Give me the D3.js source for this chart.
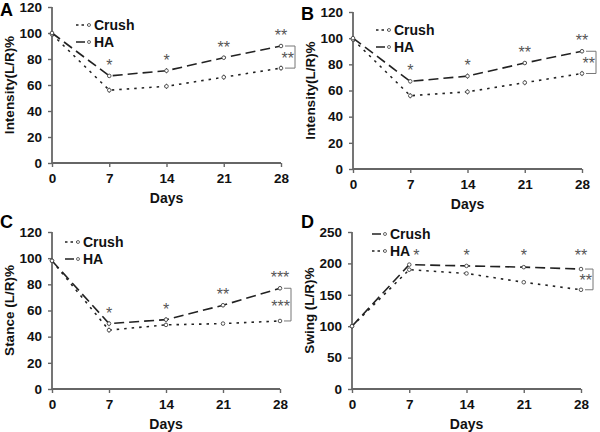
<!DOCTYPE html>
<html><head><meta charset="utf-8">
<script src="https://cdn.jsdelivr.net/npm/d3@7"></script>
<style>
body{margin:0;background:#fff;}
text{font-family:"Liberation Sans",Arial,sans-serif;font-weight:bold;}
text.star{font-weight:normal;}
</style></head>
<body><svg id="c" width="600" height="432"></svg>
<script>
const days = [0, 7, 14, 21, 28];
const xTickLabels = ["0", "7", "14", "21", "28"];
// Panel A
const aCrush = [99, 56, 59, 66, 73];
const aCrushErr = [1, 2, 2, 2, 2];
const aHA = [100, 67, 71, 81, 90];
const aHAErr = [1, 1.5, 2, 1.5, 1.5];
const aStars = ["", "*", "*", "**", "**"];
const aBracket = "**";
// Panel B
const bCrush = [99, 56, 59, 66, 73];
const bCrushErr = [1, 2, 2, 2, 2];
const bHA = [100, 67, 71, 81, 90];
const bHAErr = [1, 1.5, 2, 1.5, 1.5];
const bStars = ["", "*", "*", "**", "**"];
const bBracket = "**";
// Panel C
const cCrush = [98, 45, 49, 50, 52];
const cCrushErr = [1, 2, 1.5, 1, 1];
const cHA = [98, 50, 53, 64, 77];
const cHAErr = [1, 2, 2, 1.5, 1.5];
const cStars = ["", "*", "*", "**", "***"];
const cBracket = "***";
// Panel D
const dCrush = [100, 198, 196, 194, 191];
const dCrushErr = [2, 2, 2, 2, 2];
const dHA = [100, 190, 184, 170, 158];
const dHAErr = [2, 3, 2, 2, 2];
const dStars = ["", "*", "*", "*", "**"];
const dBracket = "**";
const yTicks120 = [0, 20, 40, 60, 80, 100, 120];
const yTicks250 = [0, 50, 100, 150, 200, 250];

const svg = d3.select("#c");
const LONG = "10,5", DOT = "2.5,5";

const panels = [
  {letter:"A", x0:52, x1:281, yT:7, yB:163, max:120, ticks:yTicks120, title:"Intensity(L/R)%",
   crush:aCrush, crushE:aCrushErr, ha:aHA, haE:aHAErr, stars:aStars, br:aBracket,
   crushDash:DOT, haDash:LONG, leg:{x:76,y:25}, flat:false, brX:295, letterXY:[0,16]},
  {letter:"B", x0:353, x1:582, yT:12, yB:169, max:120, ticks:yTicks120, title:"Intensity(L/R)%",
   crush:bCrush, crushE:bCrushErr, ha:bHA, haE:bHAErr, stars:bStars, br:bBracket,
   crushDash:DOT, haDash:LONG, leg:{x:376,y:30}, flat:false, brX:596, letterXY:[301,20]},
  {letter:"C", x0:52, x1:280, yT:232, yB:389, max:120, ticks:yTicks120, title:"Stance (L/R)%",
   crush:cCrush, crushE:cCrushErr, ha:cHA, haE:cHAErr, stars:cStars, br:cBracket,
   crushDash:DOT, haDash:LONG, leg:{x:65,y:242}, flat:false, brX:291, letterXY:[0,228]},
  {letter:"D", x0:352, x1:581, yT:232, yB:389, max:250, ticks:yTicks250, title:"Swing (L/R)%",
   crush:dCrush, crushE:dCrushErr, ha:dHA, haE:dHAErr, stars:dStars, br:dBracket,
   crushDash:LONG, haDash:DOT, leg:{x:372,y:234}, flat:true, brX:593, letterXY:[301,228]}
];

panels.forEach(p => {
  const g = svg.append("g");
  const x = d3.scaleLinear().domain([0, 28]).range([p.x0, p.x1]);
  const y = d3.scaleLinear().domain([0, p.max]).range([p.yB, p.yT]);

  const ya = d3.axisLeft(y).tickValues(p.ticks).tickSize(4).tickPadding(6);
  const xa = d3.axisBottom(x).tickValues(days).tickFormat((d,i)=>xTickLabels[i]).tickSize(4).tickPadding(6);
  const gy = g.append("g").attr("transform", `translate(${p.x0},0)`).call(ya);
  const gx = g.append("g").attr("transform", `translate(0,${p.yB})`).call(xa);
  [gx, gy].forEach(a => {
    a.select(".domain").attr("stroke", "#666").attr("stroke-width", 1.8);
    a.selectAll(".tick line").attr("stroke", "#666").attr("stroke-width", 1.4);
    a.selectAll("text").attr("font-size", 13.5).attr("fill", "#111")
      .attr("font-family", "Liberation Sans, Arial, sans-serif").attr("font-weight", "bold");
  });
  gy.select(".domain").attr("d", `M0,${p.yT}V${p.yB}`);
  gx.select(".domain").attr("d", `M${p.x0},0H${p.x1}`);

  g.append("text").attr("x", (p.x0 + p.x1)/2).attr("y", p.yB + 40)
    .attr("text-anchor", "middle").attr("font-size", 14).attr("fill", "#111").text("Days");
  g.append("text").attr("transform", `translate(${p.x0 - 38},${(p.yT + p.yB)/2}) rotate(-90)`)
    .attr("text-anchor", "middle").attr("font-size", 13.5).attr("fill", "#111").text(p.title);
  g.append("text").attr("x", p.letterXY[0]).attr("y", p.letterXY[1])
    .attr("font-size", 18).attr("fill", "#000").text(p.letter);

  const series = [
    {vals:p.crush, err:p.crushE, dash:p.crushDash},
    {vals:p.ha, err:p.haE, dash:p.haDash}
  ];
  const line = d3.line().x((d,i)=>x(days[i])).y(d=>y(d));
  series.forEach(s => {
    g.append("path").datum(s.vals).attr("d", line).attr("fill", "none")
      .attr("stroke", "#222").attr("stroke-width", 1.6).attr("stroke-dasharray", s.dash);
    const pts = g.append("g");
    s.vals.forEach((v, i) => {
      pts.append("line").attr("x1", x(days[i])).attr("x2", x(days[i]))
        .attr("y1", y(v - s.err[i])).attr("y2", y(v + s.err[i])).attr("stroke", "#555").attr("stroke-width", 1);
      pts.append("circle").attr("cx", x(days[i])).attr("cy", y(v)).attr("r", 1.8)
        .attr("fill", "#fff").attr("stroke", "#444").attr("stroke-width", 0.9);
    });
  });

  const flatY = y(d3.max(p.crush.concat(p.ha))) - 11;
  p.stars.forEach((s, i) => {
    if (!s) return;
    const top = Math.max(p.crush[i], p.ha[i]);
    const sy = p.flat ? flatY : y(top) - 12;
    g.append("text").attr("class", "star").attr("x", x(days[i]) + (p.flat && i===1 ? 7 : 0)).attr("y", sy + 7)
      .attr("text-anchor", "middle").attr("font-size", 16)
      .attr("fill", "#555").text(s);
  });

  const yH = y(p.ha[4]), yC = y(p.crush[4]);
  const yTopB = Math.min(yH, yC), yBotB = Math.max(yH, yC);
  const xb = x(28) + 4;
  g.append("path").attr("d", `M${xb},${yTopB}H${p.brX}V${yBotB}H${xb}`)
    .attr("fill", "none").attr("stroke", "#777").attr("stroke-width", 1);
  g.append("text").attr("class", "star").attr("x", p.brX - 1).attr("y", (yTopB + yBotB)/2 + 7)
    .attr("text-anchor", "end").attr("font-size", 16)
    .attr("fill", "#555").text(p.br);

  const legItems = [
    {name:"Crush", dash:p.crushDash, dy:0},
    {name:"HA", dash:p.haDash, dy:17}
  ];
  legItems.forEach(l => {
    const ly = p.leg.y + l.dy;
    g.append("line").attr("x1", p.leg.x).attr("x2", p.leg.x + 13).attr("y1", ly).attr("y2", ly)
      .attr("stroke", "#222").attr("stroke-width", 1.6).attr("stroke-dasharray", l.dash === LONG ? "9,3" : "2.5,3");
    g.append("circle").attr("cx", p.leg.x + 13).attr("cy", ly).attr("r", 1.5)
      .attr("fill", "#fff").attr("stroke", "#444").attr("stroke-width", 0.8);
    g.append("text").attr("x", p.leg.x + 18).attr("y", ly + 5)
      .attr("font-size", 14).attr("fill", "#111").text(l.name);
  });
});
</script></body></html>
